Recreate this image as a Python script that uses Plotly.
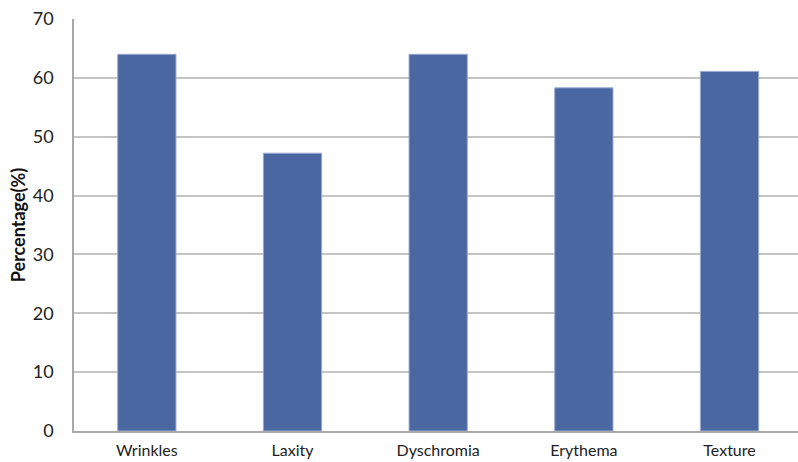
import plotly.graph_objects as go

categories = ["Wrinkles", "Laxity", "Dyschromia", "Erythema", "Texture"]
values = [64.0, 47.2, 64.0, 58.3, 61.1]
y_ticks = [0, 10, 20, 30, 40, 50, 60, 70]

fig = go.Figure()
fig.add_trace(go.Bar(
    x=categories, y=values, width=0.4,
    marker=dict(color="#4A67A1", line=dict(color="#9AAAD0", width=1)),
))

fig.update_layout(
    width=798, height=462,
    margin=dict(l=74, r=0, t=19, b=31),
    paper_bgcolor="white", plot_bgcolor="white",
    showlegend=False,
    font=dict(family="Lato, Open Sans, sans-serif", color="#222222"),
    xaxis=dict(
        range=[-0.5, 4.47], automargin=False,
        showline=True, linecolor="#A8A8A8", linewidth=1.5,
        showgrid=False, ticks="", tickfont=dict(size=16),
        ticklabelstandoff=4,
    ),
    yaxis=dict(
        range=[0, 70], tickvals=y_ticks, automargin=False,
        showline=True, linecolor="#A8A8A8", linewidth=1.5,
        showgrid=True, gridcolor="#C4C4C4", gridwidth=1.5,
        ticks="", tickfont=dict(size=18), ticklabelstandoff=15,
        zeroline=False,
        title=dict(text="<b>Percentage(%)</b>", font=dict(size=18, color="#111111"), standoff=2),
    ),
)

fig.write_html("out.html", config={"displayModeBar": False},
               post_script="document.body.style.margin='0';document.body.style.padding='0';")
